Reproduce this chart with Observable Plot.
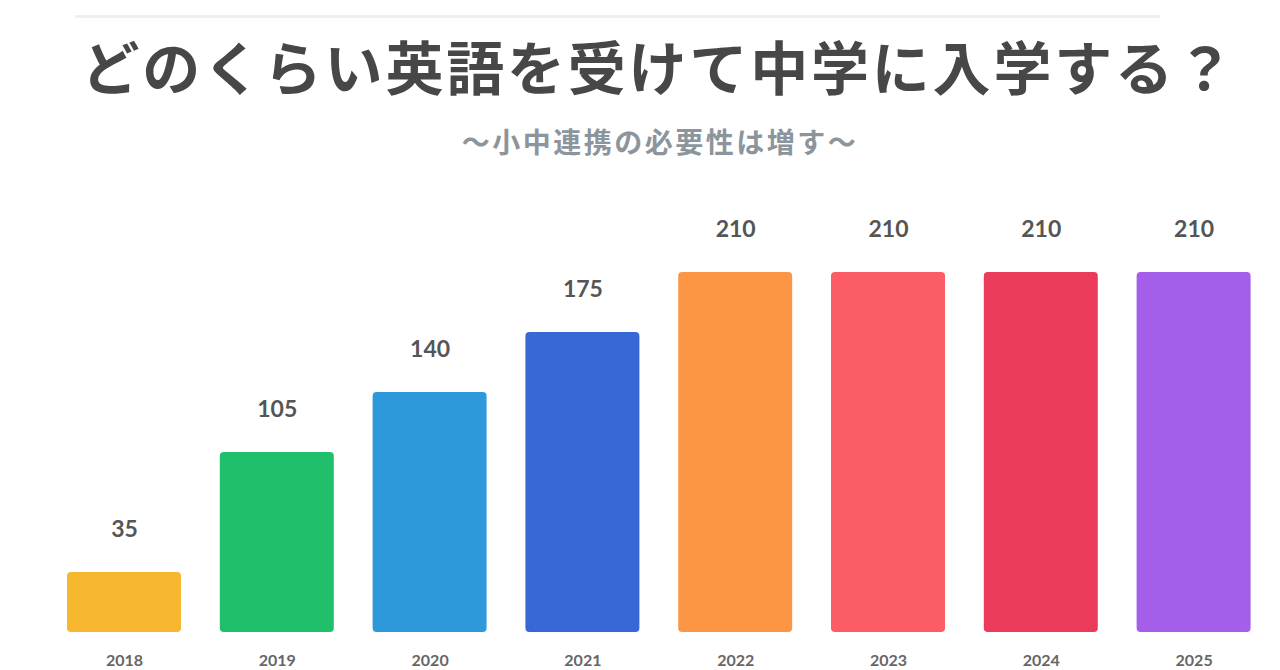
<!DOCTYPE html>
<html><head><meta charset="utf-8">
<script src="https://cdn.jsdelivr.net/npm/d3@7"></script>
<script src="https://cdn.jsdelivr.net/npm/@observablehq/plot@0.6"></script>
<style>
html,body{margin:0;padding:0;background:#fff;width:1280px;height:670px;overflow:hidden;}
#rule{position:absolute;left:75px;top:15px;width:1085px;height:3px;background:#efefef;}
#title{position:absolute;left:19px;top:25px;width:1280px;text-align:center;font-family:"Noto Sans CJK JP";font-weight:700;font-size:58px;line-height:80px;color:#474747;letter-spacing:2.8px;}
#sub{position:absolute;left:20px;top:121px;width:1280px;text-align:center;font-family:"Noto Sans CJK JP";font-weight:700;font-size:28px;line-height:40px;color:#8d959c;letter-spacing:2.5px;}
#chart{position:absolute;left:0;top:180px;}
</style></head>
<body>
<div id="rule"></div>
<div id="title">どのくらい英語を受けて中学に入学する？</div>
<div id="sub">〜小中連携の必要性は増す〜</div>
<div id="chart"></div>
<script>
const years = ["2018","2019","2020","2021","2022","2023","2024","2025"];
const hours = [35,105,140,175,210,210,210,210];
const colors = ["#F7B731","#20BF6B","#2D98DA","#3867D6","#FD9644","#FC5C65","#EB3B5A","#A55EEA"];
const data = years.map((y,i)=>({year:y, hours:hours[i], color:colors[i]}));
const chart = Plot.plot({
  width:1280, height:500,
  marginLeft:47.6, marginRight:10, marginTop:92, marginBottom:48,
  style:{background:"transparent", fontFamily:"Lato, sans-serif"},
  x:{domain:years, paddingInner:0.254, paddingOuter:0.127, round:false, label:null},
  y:{domain:[0,210], axis:null},
  marks:[
    Plot.barY(data,{x:"year", y:"hours", fill:"color", rx:4}),
    Plot.text(data,{x:"year", y:"hours", text:d=>String(d.hours), dy:-43, fontSize:23, fontWeight:"bold", fill:"#555"}),
    Plot.axisX({tickSize:0, tickPadding:22, fontSize:16, fontWeight:"bold", fill:"#666", label:null})
  ]
});
document.getElementById("chart").appendChild(chart);
</script>
</body></html>
